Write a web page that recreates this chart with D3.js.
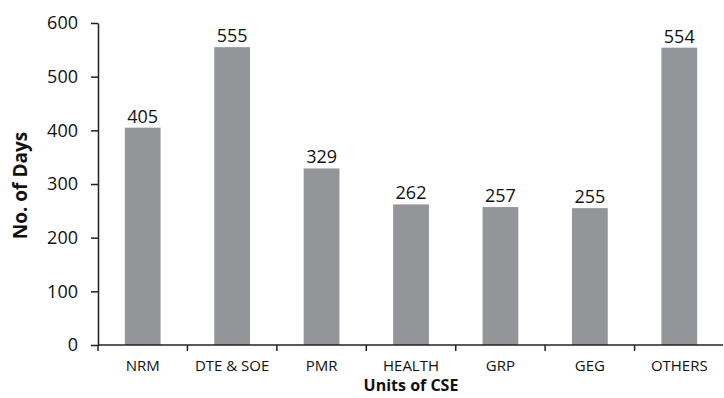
<!DOCTYPE html>
<html>
<head>
<meta charset="utf-8">
<script src="https://cdn.jsdelivr.net/npm/d3@7"></script>
<style>
  body { margin: 0; background: #fff; }
  text { font-family: "Open Sans", "DejaVu Sans", sans-serif; fill: #111; }
</style>
</head>
<body>
<svg id="chart" width="724" height="398"></svg>
<script>
// Working days spent by each CSE unit
const units = ["NRM", "DTE & SOE", "PMR", "HEALTH", "GRP", "GEG", "OTHERS"];
const days = [405, 555, 329, 262, 257, 255, 554];
const yTicks = [0, 100, 200, 300, 400, 500, 600];

const svg = d3.select("#chart");
const plotLeft = 98, plotRight = 724, plotTop = 23, plotBottom = 345;

const x = d3.scaleBand().domain(units).range([plotLeft, plotRight]).paddingInner(0.6).paddingOuter(0.3);
const xb = d3.scaleBand().domain(units).range([plotLeft, plotRight]);
const y = d3.scaleLinear().domain([0, 600]).range([plotBottom, plotTop]);

// Bars
svg.selectAll("rect.bar").data(units).join("rect")
  .attr("class", "bar")
  .attr("x", d => x(d))
  .attr("width", x.bandwidth())
  .attr("y", (d, i) => y(days[i]))
  .attr("height", (d, i) => plotBottom - y(days[i]))
  .attr("fill", "#939598");

// Value labels
svg.selectAll("text.val").data(units).join("text")
  .attr("class", "val")
  .attr("x", d => x(d) + x.bandwidth() / 2)
  .attr("y", (d, i) => y(days[i]) - 5)
  .attr("text-anchor", "middle")
  .attr("font-size", 18)
  .text((d, i) => days[i]);

// Y axis
const yAxis = svg.append("g").attr("transform", `translate(${plotLeft},0)`)
  .call(d3.axisLeft(y).tickValues(yTicks).tickSize(7).tickPadding(13).tickSizeOuter(0));
yAxis.select(".domain").attr("stroke", "#222").attr("stroke-width", 1.5);
yAxis.selectAll(".tick line").attr("stroke", "#222").attr("stroke-width", 1.5);
yAxis.selectAll(".tick text").attr("font-size", 18).attr("font-family", "Open Sans, DejaVu Sans, sans-serif").attr("fill", "#111");

// X axis: ticks sit on band boundaries
const xAxisG = svg.append("g").attr("transform", `translate(0,${plotBottom})`);
xAxisG.append("line").attr("x1", plotLeft).attr("x2", plotRight - 1).attr("stroke", "#222").attr("stroke-width", 1.5);
const bounds = units.map(u => xb(u));
xAxisG.selectAll("line.tk").data(bounds).join("line")
  .attr("class", "tk")
  .attr("x1", d => d).attr("x2", d => d)
  .attr("y1", 0).attr("y2", 6)
  .attr("stroke", "#222").attr("stroke-width", 1.5);
xAxisG.selectAll("text.lbl").data(units).join("text")
  .attr("class", "lbl")
  .attr("x", d => xb(d) + xb.bandwidth() / 2)
  .attr("y", 26)
  .attr("text-anchor", "middle")
  .attr("font-size", 15)
  .text(d => d);

// Axis titles
svg.append("text")
  .attr("x", 411).attr("y", 391)
  .attr("text-anchor", "middle")
  .attr("font-size", 16).attr("font-weight", "bold")
  .text("Units of CSE");
svg.append("text")
  .attr("transform", `translate(27,${(133 + 238) / 2}) rotate(-90)`)
  .attr("text-anchor", "middle")
  .attr("font-size", 19).attr("font-weight", "bold")
  .text("No. of Days");
</script>
</body>
</html>
